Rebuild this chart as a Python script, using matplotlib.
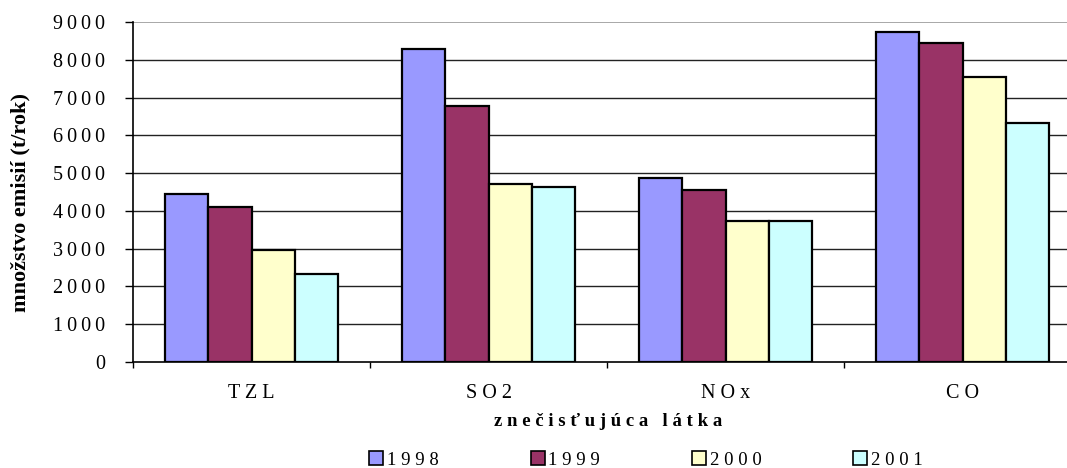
import numpy as np
import matplotlib
matplotlib.use("Agg")
import matplotlib.pyplot as plt
from matplotlib.patches import Patch

plt.rcParams['font.family'] = ['Liberation Serif', 'DejaVu Serif']

# emisie podla znecistujucej latky a roku
latky = ["TZL", "SO2", "NOx", "CO"]
roky = ["1998", "1999", "2000", "2001"]
e1998 = [4440, 8290, 4880, 8740]
e1999 = [4100, 6770, 4550, 8450]
e2000 = [2960, 4720, 3730, 7540]
e2001 = [2330, 4630, 3730, 6320]
farby = ["#9999FF", "#993366", "#FFFFCC", "#CCFFFF"]
yticks = list(range(0, 9001, 1000))


def rozpis(s, sep=" "):
    # roztiahnute pismo ako v exceli
    return sep.join(s)


fig = plt.figure(figsize=(10.67, 4.68), dpi=100)
ax = fig.add_axes([133 / 1067, 1 - 362 / 468, 948 / 1067, 340 / 468])

x = np.arange(len(latky)) + 0.5
w = 0.183
for j, hodnoty in enumerate([e1998, e1999, e2000, e2001]):
    ax.bar(x + (j - 1.5) * w, hodnoty, width=w, color=farby[j],
           edgecolor="black", linewidth=1.6, zorder=3)

ax.set_xlim(0, 4)
ax.set_ylim(0, 9000)

ax.set_yticks(yticks)
ax.set_yticklabels([rozpis(str(t), "\u2009") for t in yticks], fontsize=14.5)
ax.tick_params(axis="y", direction="out", length=5.8, width=1, pad=14.4)

ax.set_xticks([0, 1, 2, 3, 4])
ax.set_xticklabels([])
ax.set_xticks(x, minor=True)
ax.set_xticklabels([rozpis(l) for l in latky], minor=True, fontsize=14.5)
ax.tick_params(axis="x", which="major", direction="out", length=4.3, width=1)
ax.tick_params(axis="x", which="minor", length=0, pad=16)

for t in yticks[1:-1]:
    ax.axhline(t, color="#222222", linewidth=1, zorder=1)
ax.axhline(9000, color="#999999", linewidth=1.2, zorder=1)

for s in ["top", "right"]:
    ax.spines[s].set_visible(False)
ax.spines["left"].set_linewidth(1.2)
ax.spines["bottom"].set_linewidth(1.2)

fig.text(20 / 1067, 1 - 203 / 468, "množstvo emisií (t/rok)", rotation=90,
         ha="center", va="center", fontsize=16, fontweight="bold")
fig.text(608 / 1067, 1 - 422 / 468, rozpis("znečisťujúca", " ") + "   " + rozpis("látka"),
         ha="center", va="center", fontsize=13.5, fontweight="bold")

handles = [Patch(facecolor=c, edgecolor="black", linewidth=1.2) for c in farby]
fig.legend(handles, [rozpis(r) for r in roky], loc="center",
           bbox_to_anchor=(646 / 1067, 1 - 460 / 468), ncol=4, frameon=False,
           fontsize=13.5, handlelength=0.75, handleheight=0.75,
           handletextpad=0.2, columnspacing=4.9)

fig.savefig("out.png", dpi=100)
